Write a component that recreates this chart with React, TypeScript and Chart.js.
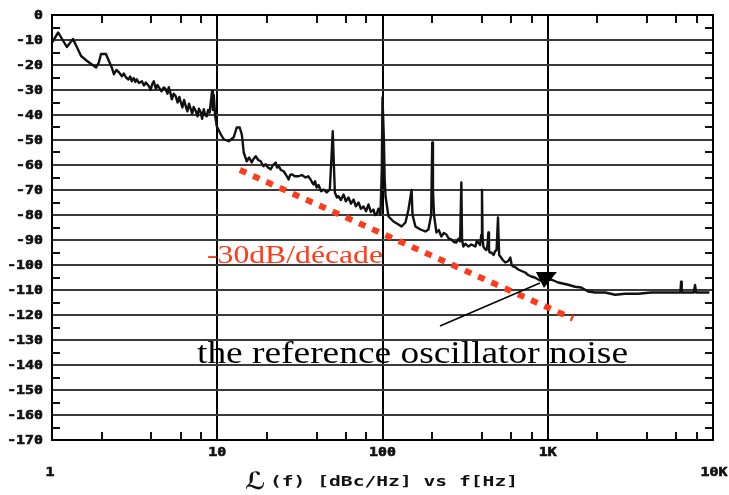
import React, { useEffect, useRef } from "react";
import { Chart, registerables } from "chart.js";

Chart.register(...registerables);

// Measured phase-noise trace: frequency [Hz] and L(f) [dBc/Hz]
const freqs: number[] = [
  1.0, 1.09, 1.23, 1.34, 1.5, 1.63, 1.85, 1.92, 1.98, 2.12, 2.21, 2.3, 2.37, 2.45, 2.54, 2.65, 2.72, 2.8, 2.9, 2.97,
  3.04, 3.12, 3.2, 3.26, 3.36, 3.5, 3.6, 3.7, 3.86, 3.95, 4.05, 4.13, 4.25, 4.35, 4.43, 4.6, 4.75, 4.88, 5.0, 5.09,
  5.2, 5.31, 5.45, 5.61, 5.75, 5.9, 6.02, 6.15, 6.3, 6.45, 6.6, 6.75, 6.92, 7.05, 7.2, 7.42, 7.6, 7.75, 7.95, 8.1,
  8.29, 8.45, 8.64, 8.8, 9.0, 9.14, 9.3, 9.42, 9.53, 9.7, 9.93, 10.5, 10.95, 11.74, 12.58, 13.12, 13.68, 14.1, 14.46, 15.08,
  15.6, 16.17, 16.6, 17.09, 17.7, 18.32, 19.0, 19.64, 20.3, 21.05, 21.8, 22.57, 23.0, 23.53, 24.3, 25.22, 26.1, 27.04, 27.6, 28.19,
  29.5, 31.08, 32.5, 34.25, 35.5, 36.72, 37.5, 38.3, 39.1, 39.93, 41.0, 42.5, 44.0, 46.0, 48.0, 49.2, 50.0, 50.8, 51.5, 53.0,
  54.2, 56.0, 58.1, 60.0, 62.3, 64.5, 66.8, 69.0, 71.6, 74.0, 76.8, 79.5, 82.3, 85.0, 88.2, 90.0, 92.0, 94.5, 97.2, 99.0,
  100, 102, 103, 104.3, 108.7, 116.5, 125, 130.3, 137.7, 143.6, 150, 152, 158.2, 169.7, 181.9, 189.7, 197, 200, 202, 205,
  212, 219, 227, 235, 243.6, 252, 261, 270, 280, 288, 295, 300, 303, 308.6, 318, 330.7, 345, 364.8, 372, 380,
  390, 396, 400, 403, 407.7, 415, 425, 432, 437, 441, 445, 455.7, 470, 480, 490, 500, 508, 516.4, 535, 553.5,
  575, 593.4, 605, 618.7, 640, 663.4, 700, 731.1, 760, 795, 835, 876, 920, 960, 1000, 1050, 1157, 1330, 1466, 1594,
  1757, 1936, 2226, 2558, 2940, 3523, 4222, 5129, 6144, 6350, 6408, 6470, 7650, 7785, 7900, 8947, 9500,
];
const levels: number[] = [
  -11, -7, -12.8, -9.6, -16.4, -18.4, -21, -19, -15.6, -15.6, -18.4, -21, -23.7, -22, -22.9, -24.5, -23.4, -24.9, -25.8, -24.6,
  -26.5, -25.2, -26.8, -25.7, -27.2, -26.5, -28.2, -27, -28.5, -30, -27.5, -26.5, -29.5, -28, -28.9, -30.5, -29, -29.7, -31.5, -28.9,
  -31, -33.7, -31.5, -32.5, -35, -32.8, -34.9, -37, -34, -36.5, -38.5, -35.5, -37.7, -39.5, -36.8, -38.5, -40.5, -37.5, -38.9, -41.5,
  -37.7, -40, -40.5, -38, -39, -34.9, -30.5, -38, -32, -40, -44.5, -47.7, -49.7, -50.5, -48.9, -45, -45, -48, -55, -58.5,
  -57, -59, -57.5, -56.5, -58, -58.5, -60.5, -59.7, -61, -61.7, -60, -59, -61, -60.5, -62, -62.5, -64, -65.8, -64, -63.7,
  -64.5, -64.5, -64, -65, -64.5, -65.8, -67, -67.8, -66.5, -69, -68, -70.5, -69.8, -71, -69.8, -56, -46.5, -60, -71, -73,
  -72.5, -74, -71.8, -74.5, -73, -75.5, -73.8, -76.5, -75, -77.5, -76.6, -78.5, -75.8, -78.8, -77.8, -80, -79.8, -77.5, -80, -62,
  -33, -50, -65, -72.5, -80.6, -82.6, -83.8, -84.6, -83, -77.8, -70, -80, -84.6, -85.8, -86.6, -85.8, -80, -51, -70, -80,
  -87, -86, -88.6, -87.2, -87.8, -89.5, -89.8, -90.8, -91, -89.5, -90.5, -67, -90, -92.6, -91.5, -92.6, -91.8, -92.6, -90.5, -91,
  -92, -88, -70, -88, -92.6, -93.5, -94, -92, -87, -94, -95, -95, -96, -94.5, -94, -81, -96, -96.6, -98, -99,
  -98.5, -97, -100, -100.6, -101, -101.8, -102.5, -103, -104, -104.6, -105, -105.8, -106.5, -105, -106, -105.8, -107, -107.9, -108.7, -109,
  -110.6, -111, -111, -111.9, -111.5, -111.5, -111, -111, -111, -111, -106.7, -111, -111, -108, -111, -111, -111,
];

// -30 dB/decade reference slope
const slopeFreqs: number[] = [13.7, 1420];
const slopeLevels: number[] = [-62, -121.5];

// Axis labels
const yTickValues: number[] = [0, -10, -20, -30, -40, -50, -60, -70, -80, -90, -100, -110, -120, -130, -140, -150, -160, -170];
const yMinorValues: number[] = [-5, -15, -25, -35, -45, -55, -65, -75, -85, -95, -105, -115, -125, -135, -145, -155, -165];
const xMajorValues: number[] = [1, 10, 100, 1000, 10000];
const xMajorLabels: string[] = ["1", "10", "100", "1K", "10K"];
const xMinorValues: number[] = [2, 4, 6, 8, 20, 40, 60, 80, 200, 400, 600, 800, 2000, 4000, 6000, 8000];
const axisTitle = "(f) [dBc/Hz] vs f[Hz]";
const slopeLabel = "-30dB/décade";
const noteLabel = "the reference oscillator noise";

const RED = "#ff3b1c";

function fitText(ctx: CanvasRenderingContext2D, text: string, x: number, y: number, font: string, width: number) {
  ctx.save();
  ctx.font = font;
  ctx.textAlign = "left";
  const w = ctx.measureText(text).width;
  const sx = width / w;
  ctx.translate(x, y);
  ctx.scale(sx, 1);
  ctx.fillText(text, 0, 0);
  ctx.restore();
}

function stretchText(ctx: CanvasRenderingContext2D, text: string, x: number, y: number, font: string, sx: number, align: CanvasTextAlign) {
  ctx.save();
  ctx.font = font;
  ctx.translate(x, y);
  ctx.scale(sx, 1);
  ctx.textAlign = align;
  ctx.lineWidth = 0.6;
  ctx.strokeStyle = ctx.fillStyle as string;
  ctx.fillText(text, 0, 0);
  ctx.strokeText(text, 0, 0);
  ctx.restore();
}

const overlay = {
  id: "overlay",
  afterDraw(chart: any) {
    const { ctx, chartArea: ca } = chart;
    const xs = chart.scales.x;
    const ys = chart.scales.y;
    ctx.save();
    // frame
    ctx.strokeStyle = "#000";
    ctx.lineWidth = 2;
    ctx.strokeRect(ca.left, ca.top, ca.right - ca.left, ca.bottom - ca.top);
    // minor ticks
    ctx.lineWidth = 2;
    ctx.strokeStyle = "#111";
    ctx.beginPath();
    for (const v of xMinorValues) {
      const px = Math.round(xs.getPixelForValue(v));
      ctx.moveTo(px, ca.bottom);
      ctx.lineTo(px, ca.bottom - 8);
      ctx.moveTo(px, ca.top);
      ctx.lineTo(px, ca.top + 8);
    }
    for (const v of yMinorValues) {
      const py = Math.round(ys.getPixelForValue(v));
      ctx.moveTo(ca.left, py);
      ctx.lineTo(ca.left + 8, py);
      ctx.moveTo(ca.right, py);
      ctx.lineTo(ca.right - 8, py);
    }
    ctx.stroke();

    // y labels
    ctx.fillStyle = "#111";
    ctx.textBaseline = "middle";
    for (const v of yTickValues) {
      stretchText(ctx, String(v), ca.left - 9, ys.getPixelForValue(v) + 1, 'bold 12px "DejaVu Sans Mono"', 1.24, "right");
    }
    // x labels
    xMajorValues.forEach((v, i) => {
      const px = xs.getPixelForValue(v);
      const edge = i === 0 || i === xMajorValues.length - 1;
      const dx = i === 0 ? -2 : i === xMajorValues.length - 1 ? 1 : 0;
      stretchText(ctx, xMajorLabels[i], px + dx, ca.bottom + (edge ? 33 : 13), 'bold 12px "DejaVu Sans Mono"', 1.24, "center");
    });
    // axis title
    ctx.textBaseline = "alphabetic";
    fitText(ctx, axisTitle, 270, 486, 'bold 14px "DejaVu Sans Mono"', 248);
    ctx.save();
    ctx.font = 'bold 24px "DejaVu Sans", "DejaVu Serif"';
    ctx.textAlign = "left";
    ctx.fillText("\u2112", 245, 489);
    ctx.restore();

    // slope label
    ctx.fillStyle = RED;
    fitText(ctx, slopeLabel, xs.getPixelForValue(8.67), ys.getPixelForValue(-99.2), '25px "Liberation Serif"', 176);
    // note label
    ctx.fillStyle = "#000";
    fitText(ctx, noteLabel, xs.getPixelForValue(7.54), ys.getPixelForValue(-139.2), '31px "Liberation Serif"', 431);

    // arrow
    const tx = xs.getPixelForValue(222.8);
    const ty = ys.getPixelForValue(-124.4);
    const hx = xs.getPixelForValue(897);
    const hy = ys.getPixelForValue(-107.2);
    ctx.strokeStyle = "#000";
    ctx.lineWidth = 1.5;
    ctx.beginPath();
    ctx.moveTo(tx, ty);
    ctx.lineTo(hx, hy);
    ctx.stroke();
    ctx.beginPath();
    ctx.moveTo(hx - 4, hy - 11);
    ctx.lineTo(hx + 17, hy - 11);
    ctx.lineTo(hx + 4, hy + 5);
    ctx.closePath();
    ctx.fillStyle = "#000";
    ctx.fill();
    ctx.restore();
  },
};

export default function App() {
  const ref = useRef<HTMLCanvasElement | null>(null);
  useEffect(() => {
    if (!ref.current) return;
    const chart = new Chart(ref.current, {
      type: "line",
      data: {
        datasets: [
          {
            data: freqs.map((f, i) => ({ x: f, y: levels[i] })),
            borderColor: "#111",
            borderWidth: 2.4,
            pointRadius: 0,
            tension: 0,
            borderJoinStyle: "round",
          },
          {
            data: slopeFreqs.map((f, i) => ({ x: f, y: slopeLevels[i] })),
            borderColor: RED,
            borderWidth: 6,
            borderDash: [7, 7.5],
            borderCapStyle: "butt",
            pointRadius: 0,
          },
        ],
      },
      options: {
        responsive: false,
        animation: false,
        events: [],
        layout: { padding: { left: 52, top: 15, right: 16, bottom: 55 } },
        plugins: { legend: { display: false }, tooltip: { enabled: false } },
        scales: {
          x: {
            type: "logarithmic",
            min: 1,
            max: 10000,
            ticks: { display: false },
            grid: { drawTicks: false, color: "#000", lineWidth: 2 },
            border: { display: false },
            afterBuildTicks: (s: any) => {
              s.ticks = xMajorValues.map((v) => ({ value: v }));
            },
            afterFit: (s: any) => {
              s.height = 0;
            },
          },
          y: {
            min: -170,
            max: 0,
            ticks: { display: false, stepSize: 10 },
            grid: { drawTicks: false, color: "#3a3a3a", lineWidth: 2 },
            border: { display: false },
            afterFit: (s: any) => {
              s.width = 0;
            },
          },
        },
      },
      plugins: [overlay],
    } as any);
    return () => chart.destroy();
  }, []);
  return (
    <div style={{ position: "fixed", left: 0, top: 0, width: 729, height: 495, background: "#fff" }}>
      <canvas ref={ref} width={729} height={495} />
    </div>
  );
}
